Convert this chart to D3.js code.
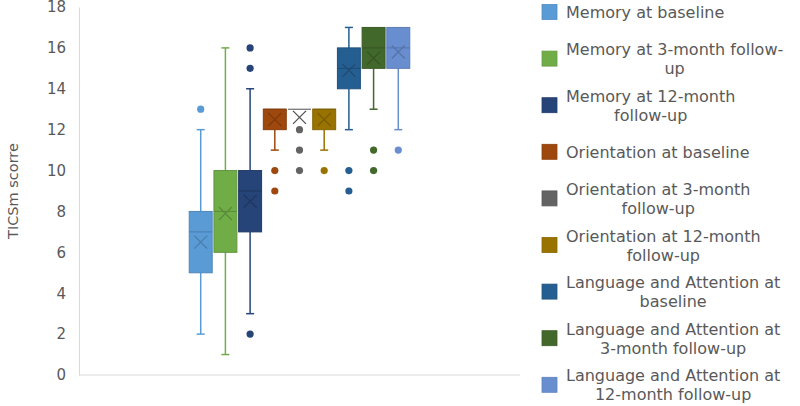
<!DOCTYPE html>
<html>
<head>
  <title>TICSm score box plot</title>
  <script src="https://cdn.jsdelivr.net/npm/d3@7"></script>
  <style>
    body { margin: 0; background: #fff; font-family: "DejaVu Sans", sans-serif; }
    svg { display: block; }
  </style>
</head>
<body>
  <div id="container"></div>
  <script>
    // series, in drawing order
    const seriesNames = [
      "Memory at baseline",
      "Memory at 3-month follow-up",
      "Memory at 12-month follow-up",
      "Orientation at baseline",
      "Orientation at 3-month follow-up",
      "Orientation at 12-month follow-up",
      "Language and Attention at baseline",
      "Language and Attention at 3-month follow-up",
      "Language and Attention at 12-month follow-up"
    ];
    // legend lines as wrapped in the picture
    const legendLines = [
      ["Memory at baseline"],
      ["Memory at 3-month follow-", "up"],
      ["Memory at 12-month", "follow-up"],
      ["Orientation at baseline"],
      ["Orientation at 3-month", "follow-up"],
      ["Orientation at 12-month", "follow-up"],
      ["Language and Attention at", "baseline"],
      ["Language and Attention at", "3-month follow-up"],
      ["Language and Attention at", "12-month follow-up"]
    ];
    const colors = ["#5b9bd5", "#70ad47", "#264478", "#9e480e", "#636363", "#997300", "#255e91", "#43682b", "#698ed0"];

    // box statistics
    const whiskerLow  = [2, 1, 3, 11, 13, 11, 12, 13, 12];
    const q1          = [5, 6, 7, 12, 13, 12, 14, 15, 15];
    const median      = [7, 8, 9, 13, 13, 13, 15, 16, 16];
    const q3          = [8, 10, 10, 13, 13, 13, 16, 17, 17];
    const whiskerHigh = [12, 16, 14, 13, 13, 13, 17, 17, 17];
    const means       = [6.5, 7.9, 8.5, 12.5, 12.6, 12.5, 14.9, 15.5, 15.8];
    const outliers    = [[13], [], [16, 15, 2], [10, 9], [12, 11, 10], [10], [10, 9], [11, 10], [11]];

    const yTicks = [0, 2, 4, 6, 8, 10, 12, 14, 16, 18];

    const width = 800, height = 406;
    const plot = { left: 79, right: 520, top: 7, bottom: 375 };

    const svg = d3.select("#container").append("svg")
      .attr("width", width)
      .attr("height", height);

    const y = d3.scaleLinear().domain([0, 18]).range([plot.bottom, plot.top]);

    // one category on the x axis, series side by side inside it
    const xGroup = d3.scaleBand().domain(["all"]).range([plot.left, plot.right]).paddingOuter(0.492);
    const x = d3.scaleBand().domain(d3.range(seriesNames.length))
      .range([xGroup("all"), xGroup("all") + xGroup.bandwidth()])
      .paddingInner(0.07).paddingOuter(0.035);

    // axes
    const yAxis = svg.append("g")
      .attr("transform", `translate(${plot.left},0)`)
      .call(d3.axisLeft(y).tickValues(yTicks).tickSize(0).tickSizeOuter(0).tickPadding(13));
    yAxis.select(".domain").attr("stroke", "#d9d9d9");
    yAxis.selectAll("text")
      .attr("fill", "#595959")
      .style("font-family", "DejaVu Sans")
      .style("font-size", "15px");

    svg.append("line")
      .attr("x1", plot.left).attr("x2", plot.right)
      .attr("y1", y(0)).attr("y2", y(0))
      .attr("stroke", "#d9d9d9");

    svg.append("text")
      .attr("transform", `translate(18,${(plot.top + plot.bottom) / 2}) rotate(-90)`)
      .attr("text-anchor", "middle")
      .attr("fill", "#595959")
      .style("font-size", "14.5px")
      .text("TICSm scorre");

    // boxes
    const boxes = svg.append("g").selectAll("g")
      .data(seriesNames.map((n, i) => i))
      .join("g");

    const cx = i => x(i) + x.bandwidth() / 2;
    const capW = 8;

    boxes.append("line")
      .attr("x1", cx).attr("x2", cx)
      .attr("y1", i => y(whiskerHigh[i])).attr("y2", i => y(q3[i]))
      .attr("stroke", i => colors[i]).attr("stroke-width", 1.5);
    boxes.append("line")
      .attr("x1", cx).attr("x2", cx)
      .attr("y1", i => y(q1[i])).attr("y2", i => y(whiskerLow[i]))
      .attr("stroke", i => colors[i]).attr("stroke-width", 1.5);
    boxes.filter(i => whiskerHigh[i] > q3[i]).append("line")
      .attr("x1", i => cx(i) - capW / 2).attr("x2", i => cx(i) + capW / 2)
      .attr("y1", i => y(whiskerHigh[i])).attr("y2", i => y(whiskerHigh[i]))
      .attr("stroke", i => colors[i]).attr("stroke-width", 1.5);
    boxes.filter(i => whiskerLow[i] < q1[i]).append("line")
      .attr("x1", i => cx(i) - capW / 2).attr("x2", i => cx(i) + capW / 2)
      .attr("y1", i => y(whiskerLow[i])).attr("y2", i => y(whiskerLow[i]))
      .attr("stroke", i => colors[i]).attr("stroke-width", 1.5);

    boxes.append("rect")
      .attr("x", i => x(i))
      .attr("width", x.bandwidth())
      .attr("y", i => y(q3[i]))
      .attr("height", i => y(q1[i]) - y(q3[i]))
      .attr("fill", i => colors[i])
      .attr("stroke", i => d3.color(colors[i]).darker(0.4))
      .attr("stroke-width", i => q3[i] === q1[i] ? 2 : 1);

    boxes.append("line")
      .attr("x1", i => x(i)).attr("x2", i => x(i) + x.bandwidth())
      .attr("y1", i => y(median[i])).attr("y2", i => y(median[i]))
      .attr("stroke", i => d3.color(colors[i]).darker(0.6)).attr("stroke-width", 1);

    // mean markers
    const m = 6.5;
    boxes.append("path")
      .attr("d", i => {
        const px = cx(i), py = y(means[i]);
        return `M${px - m},${py - m}L${px + m},${py + m}M${px + m},${py - m}L${px - m},${py + m}`;
      })
      .attr("stroke", i => d3.color(colors[i]).darker(0.6))
      .attr("stroke-width", 1.3)
      .attr("fill", "none");

    boxes.selectAll("circle")
      .data(i => outliers[i].map(v => ({ i, v })))
      .join("circle")
      .attr("cx", d => cx(d.i))
      .attr("cy", d => y(d.v))
      .attr("r", 3.6)
      .attr("fill", d => colors[d.i]);

    // legend
    const legend = svg.append("g").selectAll("g")
      .data(seriesNames.map((n, i) => i))
      .join("g")
      .attr("transform", i => `translate(542,${12 + i * 46.6})`);

    legend.append("rect")
      .attr("x", 0).attr("y", -7.5)
      .attr("width", 15).attr("height", 15)
      .attr("fill", i => colors[i])
      .attr("stroke", i => d3.color(colors[i]).darker(0.3))
      .attr("stroke-width", 0.8);

    legend.each(function (i) {
      const g = d3.select(this);
      const lines = legendLines[i];
      const t = g.append("text")
        .attr("fill", "#595959")
        .style("font-size", "16px");
      const tspans = t.selectAll("tspan")
        .data(lines)
        .join("tspan")
        .attr("y", (d, k) => (k - (lines.length - 1) / 2) * 19 + 6)
        .text(d => d);
      let maxW = 0;
      tspans.each(function () { maxW = Math.max(maxW, this.getComputedTextLength()); });
      tspans.attr("x", 24 + maxW / 2).attr("text-anchor", "middle");
    });
  </script>
</body>
</html>
